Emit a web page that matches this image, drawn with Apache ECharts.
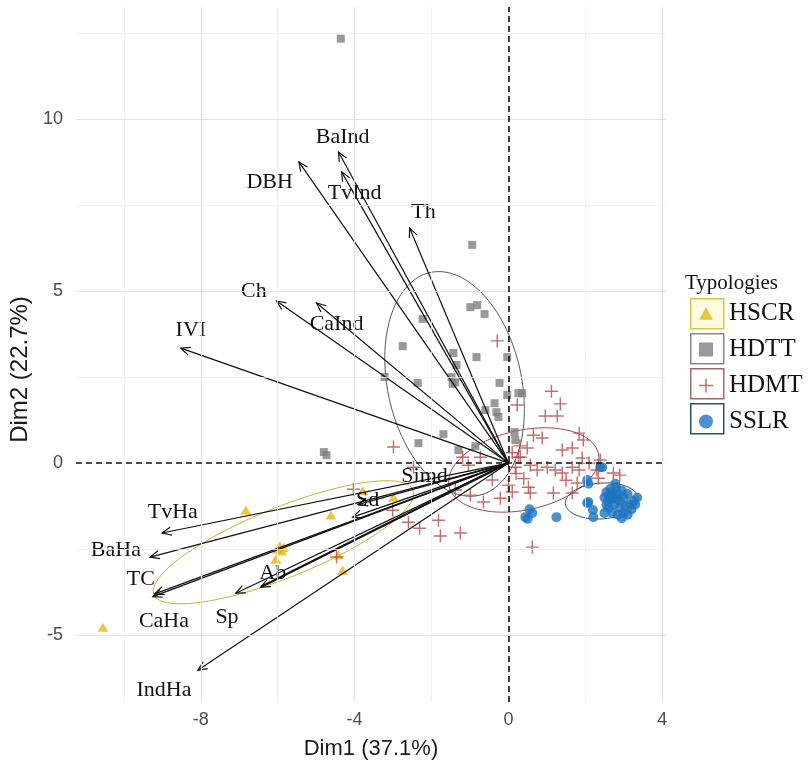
<!DOCTYPE html>
<html>
<head>
<meta charset="utf-8">
<script src="https://cdn.jsdelivr.net/npm/echarts@6/dist/echarts.min.js"></script>
<style>
  html, body { margin: 0; padding: 0; background: #fff; }
  #chart { width: 808px; height: 769px; }
</style>
</head>
<body>
<div id="chart"></div>
<script>
// PCA individuals (Dim1, Dim2) per typology
var hscrPoints = [
  [-10.55, -4.77], [-6.83, -1.37], [-4.62, -1.51], [-5.95, -2.4], [-5.85, -2.45],
  [-5.9, -2.55], [-6.0, -2.5], [-6.05, -2.79], [-4.31, -3.11], [-4.42, -2.67],
  [-3.79, -0.8], [-2.99, -0.99]
];
var hdttPoints = [
  [-4.36, 12.33], [-0.94, 6.34], [-0.99, 4.53], [-0.81, 4.59], [-0.62, 4.33],
  [-2.23, 4.19], [-2.75, 3.4], [-1.43, 3.2], [-0.83, 3.08], [-0.03, 3.08],
  [-1.35, 2.85], [-1.48, 2.5], [-1.38, 2.35], [-1.45, 2.3], [-2.36, 2.33],
  [-0.23, 2.33], [-0.03, 1.98], [0.26, 2.03], [0.36, 2.03], [-0.36, 1.74],
  [-0.31, 1.48], [-0.26, 1.34], [-0.6, 1.54], [-1.69, 0.84], [-2.34, 0.58],
  [-1.3, 0.38], [-0.86, 0.49], [0.16, 0.9], [0.18, 0.67], [-3.22, 2.5],
  [-4.8, 0.32], [-4.73, 0.23]
];
var hdmtPoints = [
  [-0.29, 3.55], [1.12, 2.09], [1.35, 1.72], [0.23, 1.69], [0.96, 1.37],
  [1.27, 1.37], [-2.99, 0.47], [0.65, 0.81], [0.88, 0.73], [1.84, 0.87],
  [1.95, 0.67], [1.66, 0.44], [1.4, 0.38], [0.49, 0.44], [1.92, 0.15],
  [2.39, 0.09], [0.26, 0.17], [0.57, -0.06], [0.75, -0.2], [1.01, -0.12],
  [1.22, -0.2], [1.4, -0.29], [1.66, -0.12], [1.84, -0.2], [2.73, -0.29],
  [2.34, -0.44], [1.79, -0.58], [0.52, -0.7], [0.57, -0.87], [1.17, -0.87],
  [1.66, -0.87], [0.0, -0.64], [0.1, -0.84], [-0.65, -1.13], [-0.99, -0.93],
  [-0.21, -1.02], [-1.82, -1.66], [-1.77, -2.12], [-1.25, -2.03], [-2.31, -1.89],
  [-2.6, -1.72], [-3.01, -1.37], [0.62, -2.44], [-1.04, -0.06], [-0.73, 0.17],
  [-2.47, -0.12], [-1.19, 0.17], [-0.42, -0.49], [0.18, -0.12], [0.31, 0.17],
  [2.3, -0.2], [2.9, -0.35], [-1.38, -0.78], [-4.03, -0.76], [-4.47, -2.73],
  [0.3, 0.5], [0.1, 0.3], [0.2, -0.3], [0.4, -0.45], [1.5, -0.5], [2.1, 0.0]
];
var sslrPoints = [
  [0.44, -1.57], [0.62, -1.45], [0.55, -1.34], [0.5, -1.62], [1.25, -1.57],
  [2.05, -0.49], [2.08, -0.6], [2.39, -0.12], [2.44, -0.12], [2.08, -1.13],
  [2.05, -1.16], [2.2, -1.36], [2.21, -1.57],
  [2.5, -1.0], [2.55, -0.85], [2.6, -1.1], [2.65, -0.75], [2.7, -0.95],
  [2.75, -1.2], [2.8, -0.7], [2.85, -0.9], [2.9, -1.1], [2.95, -0.8],
  [3.0, -1.0], [3.05, -1.25], [2.6, -1.3], [2.7, -1.45], [2.85, -1.5],
  [3.0, -1.45], [3.1, -1.5], [3.2, -1.35], [3.25, -1.1], [3.35, -1.0],
  [2.78, -0.6], [2.68, -1.05], [2.9, -1.3], [3.1, -0.9], [2.55, -1.2],
  [2.95, -1.6], [3.15, -1.2], [2.7, -0.85], [2.82, -1.05], [2.5, -1.45],
  [3.3, -1.2], [2.62, -0.95]
];

// confidence ellipses: [centerX, centerY, semiMajor, semiMinor, angleDeg]
var hscrEllipse = [-5.85, -2.3, 3.7, 1.0, 24.6];
var hdttEllipse = [-1.4, 2.3, 3.3, 1.75, 100];
var hdmtEllipse = [0.4, -0.2, 2.0, 1.15, 15];
var sslrEllipse = [2.43, -1.1, 0.95, 0.52, 5];

// variable arrows (loadings) and where their labels sit
var varNames = ["DBH", "BaInd", "TvInd", "Th", "Ch", "CaInd", "IVI", "Simd", "Sd",
  "TvHa", "BaHa", "TC", "CaHa", "Sp", "Ab", "IndHa"];
var varTips = [
  [-5.45, 8.75], [-4.42, 9.04], [-4.34, 8.46], [-2.57, 6.83], [-6.03, 4.71],
  [-4.99, 4.65], [-8.52, 3.34], [-3.9, -1.2], [-4.05, -1.57], [-9.01, -2.03],
  [-9.32, -2.73], [-9.2, -3.8], [-9.25, -3.88], [-7.09, -3.78], [-6.44, -3.6],
  [-8.08, -6.02]
];
var varLabelPos = [
  [-6.21, 8.17], [-4.31, 9.48], [-4.0, 7.85], [-2.21, 7.3], [-6.62, 5.0],
  [-4.47, 4.04], [-8.26, 3.87], [-2.18, -0.38], [-3.66, -1.08], [-8.73, -1.42],
  [-10.21, -2.53], [-9.56, -3.37], [-8.96, -4.59], [-7.32, -4.48], [-6.13, -3.2],
  [-8.96, -6.6]
];

var xTicks = [-8, -4, 0, 4];
var yTicks = [-5, 0, 5, 10];
var xMajor = [-8, -4, 4];
var xMinor = [-10, -6, -2, 2];
var yMajor = [-5, 5, 10];
var yMinor = [-2.5, 2.5, 7.5, 12.5];

var colors = { HSCR: "#e5b812", HDTT: "#7f7f7f", HDMT: "#b24a48", SSLR: "#1f74bf" };
var ellipseColors = ["#c7b23a", "#5a5a5a", "#9a4a4a", "#28506f"];
var plusPath = "path://M0,4.45H10V5.55H0Z M4.45,0H5.55V10H4.45Z";
var serif = "Liberation Serif";
var sans = "Liberation Sans";

var chart = echarts.init(document.getElementById("chart"));

function gridLine(axis, v, minor) {
  var o = { lineStyle: { color: minor ? "#efefef" : "#e3e3e3", width: minor ? 0.8 : 1.2, type: "solid" } };
  o[axis] = v;
  return o;
}
var gridData = [];
xMajor.forEach(function (v) { gridData.push(gridLine("xAxis", v, false)); });
xMinor.forEach(function (v) { gridData.push(gridLine("xAxis", v, true)); });
yMajor.forEach(function (v) { gridData.push(gridLine("yAxis", v, false)); });
yMinor.forEach(function (v) { gridData.push(gridLine("yAxis", v, true)); });
gridData.push({ xAxis: 0, lineStyle: { color: "#111", width: 1.6, type: [6, 4] } });
gridData.push({ yAxis: 0, lineStyle: { color: "#111", width: 1.6, type: [6, 4] } });

var ellipseData = [hscrEllipse, hdttEllipse, hdmtEllipse, sslrEllipse].map(function (e, i) {
  return e.concat([i]);
});

function renderEllipse(params, api) {
  var cx = api.value(0), cy = api.value(1), a = api.value(2), b = api.value(3);
  var th = api.value(4) * Math.PI / 180;
  var idx = api.value(5);
  var pts = [];
  for (var k = 0; k < 90; k++) {
    var t = k / 90 * Math.PI * 2;
    var dx = a * Math.cos(t), dy = b * Math.sin(t);
    pts.push(api.coord([cx + dx * Math.cos(th) - dy * Math.sin(th), cy + dx * Math.sin(th) + dy * Math.cos(th)]));
  }
  return {
    type: "polygon",
    shape: { points: pts },
    style: { fill: "none", stroke: ellipseColors[idx], lineWidth: 1 }
  };
}

var arrowData = varTips.map(function (t, i) {
  return [t[0], t[1], varLabelPos[i][0], varLabelPos[i][1]];
});

function renderArrow(params, api) {
  var o = api.coord([0, 0]);
  var tip = api.coord([api.value(0), api.value(1)]);
  var lab = api.coord([api.value(2), api.value(3)]);
  var ang = Math.atan2(tip[1] - o[1], tip[0] - o[0]);
  var len = 10, spread = 0.42;
  var p1 = [tip[0] - len * Math.cos(ang - spread), tip[1] - len * Math.sin(ang - spread)];
  var p2 = [tip[0] - len * Math.cos(ang + spread), tip[1] - len * Math.sin(ang + spread)];
  var name = varNames[params.dataIndex];
  var w = name === "Ab" ? 2.2 : 1.2;
  return {
    type: "group",
    children: [
      { type: "line", shape: { x1: o[0], y1: o[1], x2: tip[0], y2: tip[1] },
        style: { stroke: "#111", lineWidth: w } },
      { type: "polyline", shape: { points: [p1, tip, p2] },
        style: { stroke: "#111", lineWidth: 1.2, fill: "none" } },
      { type: "text", x: lab[0], y: lab[1],
        style: { text: name, fill: "#111", font: "22px '" + serif + "'", align: "center", verticalAlign: "middle" } }
    ]
  };
}

var option = {
  animation: false,
  backgroundColor: "#fff",
  grid: { left: 75, right: 142, top: 7, bottom: 67 },
  title: {
    text: "Typologies", left: 680, top: 268,
    textStyle: { fontFamily: serif, fontSize: 21, fontWeight: "normal", color: "#111" }
  },
  legend: {
    orient: "vertical", left: 699, top: 301, padding: 0,
    itemWidth: 14, itemHeight: 14, itemGap: 11,
    textStyle: { fontFamily: serif, fontSize: 25, color: "#111", padding: [0, 0, 0, 11] },
    data: [
      { name: "HSCR", icon: "path://M5,0L10,9L0,9Z" },
      { name: "HDTT", icon: "path://M0,0H10V10H0Z" },
      { name: "HDMT", icon: plusPath },
      { name: "SSLR", icon: "path://M5,0A5,5,0,1,1,4.99,0Z" }
    ],
    selectedMode: false
  },
  graphic: [
    { type: "rect", left: 690, top: 298, shape: { width: 33, height: 30 }, style: { fill: "#fffbe0", stroke: "#d6c54a", lineWidth: 1.5 }, z: 1 },
    { type: "rect", left: 690, top: 333, shape: { width: 33, height: 30 }, style: { fill: "#fff", stroke: "#8a8a8a", lineWidth: 1.5 }, z: 1 },
    { type: "rect", left: 690, top: 368, shape: { width: 33, height: 30 }, style: { fill: "#fff", stroke: "#9d6a6a", lineWidth: 1.5 }, z: 1 },
    { type: "rect", left: 690, top: 403, shape: { width: 33, height: 30 }, style: { fill: "#fff", stroke: "#28506f", lineWidth: 1.5 }, z: 1 }
  ],
  xAxis: {
    type: "value", min: -11.25, max: 4.1,
    name: "Dim1 (37.1%)", nameLocation: "middle", nameGap: 36,
    nameTextStyle: { fontFamily: sans, fontSize: 22, color: "#1a1a1a" },
    axisLine: { show: false },
    axisTick: { show: true, customValues: xTicks, length: 5, lineStyle: { color: "#444" } },
    axisLabel: { customValues: xTicks, fontFamily: sans, fontSize: 18, color: "#4d4d4d", margin: 9 },
    splitLine: { show: false }
  },
  yAxis: {
    type: "value", min: -6.94, max: 13.25,
    name: "Dim2 (22.7%)", nameLocation: "middle", nameGap: 42, nameRotate: 90,
    nameTextStyle: { fontFamily: sans, fontSize: 24, color: "#1a1a1a", padding: [0, 30, 0, 0] },
    axisLine: { show: false },
    axisTick: { show: true, customValues: yTicks, length: 5, lineStyle: { color: "#444" } },
    axisLabel: { customValues: yTicks, fontFamily: sans, fontSize: 18, color: "#4d4d4d", margin: 13 },
    splitLine: { show: false }
  },
  series: [
    {
      type: "scatter", name: "grid", data: [], z: 0, silent: true,
      markLine: { silent: true, symbol: ["none", "none"], label: { show: false }, data: gridData, animation: false }
    },
    {
      type: "custom", name: "ellipses", data: ellipseData, renderItem: renderEllipse, z: 2, silent: true,
      encode: { x: 0, y: 1 }
    },
    { type: "scatter", name: "HSCR", data: hscrPoints, symbol: "triangle", symbolSize: [11, 9], itemStyle: { color: colors.HSCR }, z: 3 },
    { type: "scatter", name: "HDTT", data: hdttPoints, symbol: "rect", symbolSize: 8, itemStyle: { color: colors.HDTT }, z: 3 },
    { type: "scatter", name: "HDMT", data: hdmtPoints, symbol: plusPath, symbolSize: 13, itemStyle: { color: colors.HDMT }, z: 3 },
    { type: "scatter", name: "SSLR", data: sslrPoints, symbol: "circle", symbolSize: 10, itemStyle: { color: colors.SSLR }, z: 3 },
    {
      type: "custom", name: "variables", data: arrowData, renderItem: renderArrow, z: 4, silent: true,
      encode: { x: 0, y: 1 }
    }
  ]
};
chart.setOption(option);
</script>
</body>
</html>
